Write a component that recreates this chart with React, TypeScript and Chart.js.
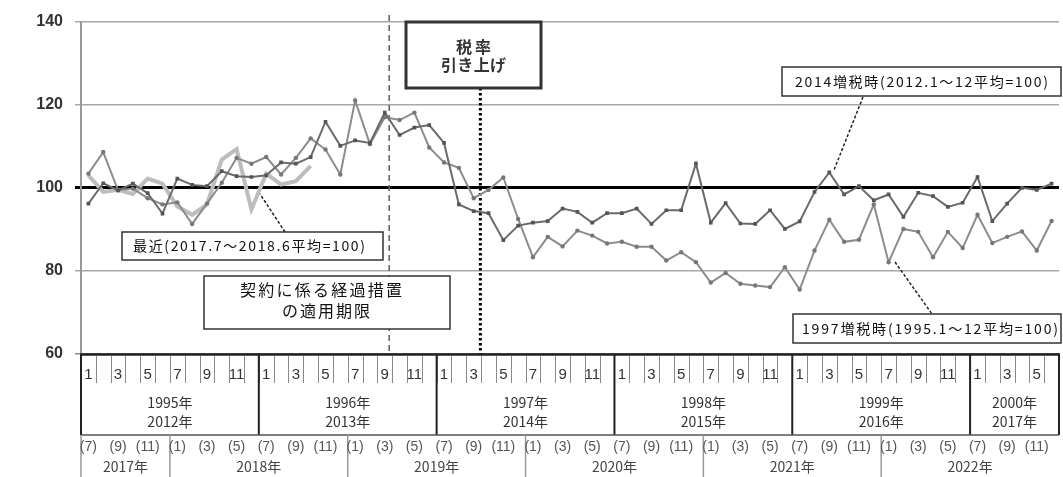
import React, { useEffect, useRef } from "react";
import { Chart, registerables } from "chart.js";

Chart.register(...registerables);

// ---- categories / axis table ----
const topYearsA = ["1995年", "1996年", "1997年", "1998年", "1999年", "2000年"];
const topYearsB = ["2012年", "2013年", "2014年", "2015年", "2016年", "2017年"];
const topYearMonths = [12, 12, 12, 12, 12, 6];
const bottomYears = ["2017年", "2018年", "2019年", "2020年", "2021年", "2022年"];
const bottomYearStart = [7, 1, 1, 1, 1, 1];
const bottomYearMonths = [6, 12, 12, 12, 12, 12];
const yTicks = [60, 80, 100, 120, 140];

// ---- series values ----
const series2014 = [
  96.2, 101.1, 99.4, 101, 98.7, 93.8, 102.2, 100.7, 100.4, 104, 102.8, 102.6,
  103, 106.1, 105.8, 107.4, 115.9, 110.1, 111.4, 110.8, 118.1, 112.7, 114.5, 115.1,
  110.8, 96, 94.4, 93.9, 87.4, 90.9, 91.6, 92, 95, 94.2, 91.6, 93.9,
  93.9, 95, 91.3, 94.6, 94.6, 105.8, 91.6, 96.3, 91.4, 91.3, 94.6, 90.1,
  91.9, 99, 103.7, 98.4, 100.4, 97, 98.4, 93, 98.8, 98, 95.4, 96.4,
  102.6, 92, 96.2, 100, 99.5, 101,
];
const series1997 = [
  103.4, 108.6, 99.4, 99.8, 97.5, 96, 96.5, 91.3, 96.2, 101.2, 107.2, 105.8,
  107.4, 103.2, 107.2, 111.9, 109.2, 103.2, 121, 110.5, 117, 116.3, 118.1, 109.7,
  106.1, 104.8, 97.5, 99.5, 102.5, 92.5, 83.3, 88.2, 85.9, 89.7, 88.5, 86.6,
  87, 85.8, 85.8, 82.5, 84.5, 82.1, 77.2, 79.5, 76.9, 76.5, 76.1, 80.9,
  75.5, 84.9, 92.3, 87, 87.5, 96, 82.1, 90.1, 89.4, 83.3, 89.4, 85.5,
  93.5, 86.7, 88.2, 89.5, 84.9, 92,
];
const seriesRecent = [
  103, 99, 99.5, 98.5, 102.2, 101, 95.5, 93.5, 96, 106.8, 109.3, 94.8,
  103.4, 100.8, 101.6, 105.3,
];

// ---- texts ----
const label2014 = "2014増税時(2012.1～12平均=100)";
const label1997 = "1997増税時(1995.1～12平均=100)";
const labelRecent = "最近(2017.7～2018.6平均=100)";
const labelTax = ["税率", "引き上げ"];
const labelContract = ["契約に係る経過措置", "の適用期限"];

const contractIndex = 20.3;
const taxIndex = 26.45;

const categories: string[] = [];
topYearsA.forEach((y, i) => {
  for (let m = 1; m <= topYearMonths[i]; m++) categories.push(`${y}${m}月`);
});

const JP = "'Noto Sans CJK JP', 'Noto Sans', sans-serif";
const NUM = "'Liberation Sans', Arial, sans-serif";

function spacedText(ctx: CanvasRenderingContext2D, text: string, x: number, y: number, width: number) {
  const chars = Array.from(text);
  const ws = chars.map((c) => ctx.measureText(c).width);
  const total = ws.reduce((a, b) => a + b, 0);
  const gap = chars.length > 1 ? (width - total) / (chars.length - 1) : 0;
  let cx = x;
  ctx.textAlign = "left";
  chars.forEach((c, i) => {
    ctx.fillText(c, cx, y);
    cx += ws[i] + gap;
  });
}

function box(ctx: CanvasRenderingContext2D, x1: number, y1: number, x2: number, y2: number, lw: number, color: string) {
  ctx.save();
  ctx.fillStyle = "#fff";
  ctx.fillRect(x1, y1, x2 - x1, y2 - y1);
  ctx.lineWidth = lw;
  ctx.strokeStyle = color;
  ctx.setLineDash([]);
  ctx.strokeRect(x1, y1, x2 - x1, y2 - y1);
  ctx.restore();
}

function leader(ctx: CanvasRenderingContext2D, x1: number, y1: number, x2: number, y2: number) {
  ctx.save();
  ctx.strokeStyle = "#222";
  ctx.lineWidth = 1.5;
  ctx.setLineDash([3, 2]);
  ctx.beginPath();
  ctx.moveTo(x1, y1);
  ctx.lineTo(x2, y2);
  ctx.stroke();
  ctx.restore();
}

const decorPlugin = {
  id: "decor",
  beforeDatasetsDraw(chart: any) {
    const ctx: CanvasRenderingContext2D = chart.ctx;
    const xs = chart.scales.x;
    const area = chart.chartArea;
    ctx.save();
    // dashed contract deadline line
    const xc = xs.getPixelForValue(contractIndex);
    ctx.strokeStyle = "#666";
    ctx.lineWidth = 1.6;
    ctx.setLineDash([6, 4]);
    ctx.beginPath();
    ctx.moveTo(xc, 15);
    ctx.lineTo(xc, area.bottom);
    ctx.stroke();
    // dotted tax-rise line
    const xt = xs.getPixelForValue(taxIndex);
    ctx.strokeStyle = "#000";
    ctx.lineWidth = 3;
    ctx.setLineDash([2.5, 2.5]);
    ctx.beginPath();
    ctx.moveTo(xt, 88);
    ctx.lineTo(xt, area.bottom);
    ctx.stroke();
    ctx.restore();
  },
  afterDatasetsDraw(chart: any) {
    const ctx: CanvasRenderingContext2D = chart.ctx;
    ctx.save();
    // leaders
    leader(ctx, 863, 97, 834, 170);
    leader(ctx, 285, 232, 260, 194);
    leader(ctx, 895, 262, 932, 314);

    ctx.fillStyle = "#111";
    ctx.textBaseline = "middle";

    // tax box
    box(ctx, 406, 22, 541, 88, 3, "#333");
    ctx.font = `bold 16px ${JP}`;
    ctx.fillStyle = "#333";
    spacedText(ctx, labelTax[0], 473.5 - 17.5, 46.5, 35);
    spacedText(ctx, labelTax[1], 473.5 - 32.5, 65, 65);

    // 2014 box
    box(ctx, 782, 67, 1061, 96, 1.5, "#333");
    ctx.font = `14px ${JP}`;
    ctx.fillStyle = "#111";
    spacedText(ctx, label2014, 795, 81.5, 253);

    // recent box
    box(ctx, 122, 232, 383, 260, 1.5, "#333");
    spacedText(ctx, labelRecent, 133, 246, 232);

    // contract box
    box(ctx, 204, 276, 450, 329, 1.5, "#333");
    ctx.font = `16px ${JP}`;
    spacedText(ctx, labelContract[0], 321 - 81, 290, 162);
    spacedText(ctx, labelContract[1], 326 - 44, 311, 88);

    // 1997 box
    box(ctx, 793, 314, 1061, 343, 1.5, "#333");
    ctx.font = `14px ${JP}`;
    spacedText(ctx, label1997, 802, 329, 256);
    ctx.restore();
  },
  afterDraw(chart: any) {
    const ctx: CanvasRenderingContext2D = chart.ctx;
    const xs = chart.scales.x;
    const area = chart.chartArea;
    const bnd = (k: number) => xs.getPixelForValue(k - 0.5);
    const mid = (k: number) => xs.getPixelForValue(k);
    const top = area.bottom;
    const row1Bottom = 435;
    const bottom = 477;
    const total = categories.length;
    ctx.save();
    ctx.setLineDash([]);

    // month ticks in row 1
    ctx.strokeStyle = "#8a8a8a";
    ctx.lineWidth = 1;
    for (let k = 1; k < total; k++) {
      const x = Math.round(bnd(k)) + 0.5;
      ctx.beginPath();
      ctx.moveTo(x, top + 2);
      ctx.lineTo(x, top + 29);
      ctx.stroke();
    }

    // month labels row 1
    ctx.fillStyle = "#333";
    ctx.textBaseline = "middle";
    ctx.textAlign = "center";
    ctx.font = `15px 'Liberation Sans Narrow', ${NUM}`;
    let k0 = 0;
    topYearMonths.forEach((n) => {
      for (let m = 1; m <= n; m++) {
        if (m % 2 === 1) ctx.fillText(String(m), mid(k0 + m - 1), 375);
      }
      k0 += n;
    });

    // year labels row 1
    ctx.font = `14px ${JP}`;
    k0 = 0;
    topYearMonths.forEach((n, i) => {
      const cx = (bnd(k0) + bnd(k0 + n)) / 2;
      ctx.fillText(topYearsA[i], cx, 403);
      ctx.fillText(topYearsB[i], cx, 421.5);
      k0 += n;
    });

    // row 1 borders
    ctx.strokeStyle = "#222";
    ctx.lineWidth = 2.5;
    ctx.beginPath();
    ctx.moveTo(bnd(0) - 1, top + 0.5);
    ctx.lineTo(bnd(total) + 1, top + 0.5);
    ctx.stroke();
    ctx.lineWidth = 2;
    k0 = 0;
    const yearBounds = [0];
    topYearMonths.forEach((n) => {
      k0 += n;
      yearBounds.push(k0);
    });
    yearBounds.forEach((k) => {
      ctx.beginPath();
      ctx.moveTo(bnd(k), top);
      ctx.lineTo(bnd(k), row1Bottom);
      ctx.stroke();
    });
    ctx.strokeStyle = "#555";
    ctx.lineWidth = 1.5;
    ctx.beginPath();
    ctx.moveTo(bnd(0), row1Bottom);
    ctx.lineTo(bnd(total), row1Bottom);
    ctx.stroke();

    // row 2
    ctx.strokeStyle = "#999";
    ctx.lineWidth = 1.5;
    k0 = 0;
    const bBounds = [0];
    bottomYearMonths.forEach((n) => {
      k0 += n;
      bBounds.push(k0);
    });
    bBounds.slice(0, -1).forEach((k) => {
      ctx.beginPath();
      ctx.moveTo(bnd(k), row1Bottom);
      ctx.lineTo(bnd(k), bottom);
      ctx.stroke();
    });
    ctx.fillStyle = "#555";
    ctx.font = `14px ${NUM}`;
    k0 = 0;
    bottomYearMonths.forEach((n, i) => {
      for (let j = 0; j < n; j++) {
        const m = bottomYearStart[i] + j;
        if (m % 2 === 1) ctx.fillText(`(${m})`, mid(k0 + j), 447.5);
      }
      k0 += n;
    });
    ctx.font = `14px ${JP}`;
    ctx.fillStyle = "#444";
    k0 = 0;
    bottomYearMonths.forEach((n, i) => {
      const cx = (bnd(k0) + bnd(k0 + n)) / 2;
      ctx.fillText(bottomYears[i], cx, 466.5);
      k0 += n;
    });
    ctx.restore();
  },
};

export default function App() {
  const ref = useRef<HTMLCanvasElement | null>(null);
  useEffect(() => {
    if (!ref.current) return;
    const chart = new Chart(ref.current, {
      type: "line",
      data: {
        labels: categories,
        datasets: [
          {
            label: label2014,
            data: series2014,
            borderColor: "#6a6a6a",
            borderWidth: 2,
            pointStyle: "rect",
            pointRadius: 2.6,
            pointBackgroundColor: "#555",
            pointBorderColor: "#555",
            pointBorderWidth: 0,
            tension: 0,
          },
          {
            label: label1997,
            data: series1997,
            borderColor: "#8c8c8c",
            borderWidth: 2,
            pointStyle: "circle",
            pointRadius: 2.2,
            pointBackgroundColor: "#777",
            pointBorderColor: "#777",
            pointBorderWidth: 0,
            tension: 0,
          },
          {
            label: labelRecent,
            data: seriesRecent,
            borderColor: "#bdbdbd",
            borderWidth: 4,
            pointRadius: 0,
            tension: 0,
          },
        ],
      },
      options: {
        responsive: false,
        animation: false,
        events: [],
        layout: { padding: { left: 0, right: 4, top: 19, bottom: 123 } },
        plugins: { legend: { display: false }, tooltip: { enabled: false } },
        scales: {
          x: { type: "category", offset: true, display: false },
          y: {
            min: 60,
            max: 140,
            afterFit: (s: any) => {
              s.width = 81;
            },
            afterBuildTicks: (s: any) => {
              s.ticks = yTicks.map((v) => ({ value: v }));
            },
            ticks: {
              padding: 12,
              color: "#333",
              font: { family: NUM, size: 16, weight: "bold" },
            },
            grid: {
              color: (c: any) => (c.tick && c.tick.value === 100 ? "#000" : c.tick && c.tick.value === 60 ? "#888" : "#a8a8a8"),
              lineWidth: (c: any) => (c.tick && c.tick.value === 100 ? 3 : 1.5),
              tickLength: 6,
            },
            border: { color: "#999", width: 2 },
          },
        },
      },
      plugins: [decorPlugin],
    } as any);
    return () => chart.destroy();
  }, []);
  return (
    <div style={{ position: "absolute", left: 0, top: 0, width: 1063, height: 477, background: "#fff" }}>
      <canvas ref={ref} width={1063} height={477} style={{ display: "block" }} />
    </div>
  );
}
